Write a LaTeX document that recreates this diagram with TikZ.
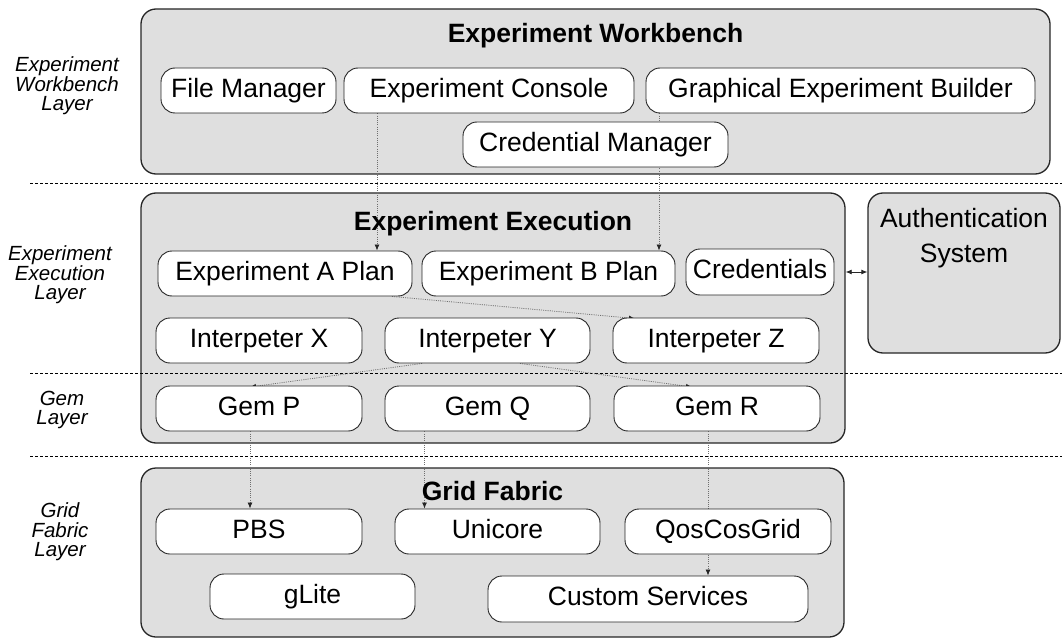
\documentclass[tikz,border=0pt]{standalone}
\usepackage{fontspec}
\setmainfont{Liberation Sans}
\usetikzlibrary{arrows.meta}
\pgfdeclarelayer{back}
\pgfdeclarelayer{mid}
\pgfsetlayers{back,mid,main}
\definecolor{panel}{HTML}{DFDFDF}
\definecolor{edge}{HTML}{262626}
\definecolor{link}{HTML}{6E6E6E}
\begin{document}
\begin{tikzpicture}[x=1pt,y=-1pt,
  panelbox/.style={draw=edge,line width=1.3pt,fill=panel,rounded corners=15pt,inner sep=0pt},
  comp/.style={draw=edge,line width=0.9pt,fill=white,rounded corners=14pt,inner sep=0pt,
    minimum height=45pt,text height=19pt,text depth=5.5pt,font=\fontsize{26.5}{30}\selectfont},
  paneltitle/.style={anchor=base,inner sep=0pt,font=\fontsize{26.5}{30}\selectfont\bfseries},
  layerlabel/.style={align=center,inner sep=0pt,font=\fontsize{20.5}{19.5}\selectfont\itshape},
  separator/.style={draw=black,line width=0.9pt,dash pattern=on 3pt off 2pt},
  flow/.style={draw=link,line width=0.8pt,dash pattern=on 1pt off 1.2pt,
    -{Latex[length=6pt,width=5pt,color=edge]}},
  biflow/.style={draw=edge,line width=0.8pt,
    {Latex[length=6pt,width=5pt]}-{Latex[length=6pt,width=5pt]}}]
\useasboundingbox (0,0) rectangle (1062,639);

% layer panels
\begin{pgfonlayer}{back}
  \node[panelbox,minimum width=909pt,minimum height=165pt] (wb) at (595.5,91.5) {};
  \node[panelbox,minimum width=704pt,minimum height=250pt] (ex) at (493,318) {};
  \node[panelbox,minimum width=703pt,minimum height=169pt] (gf) at (492.5,552.5) {};
  \node[panelbox,minimum width=192pt,minimum height=160pt] (auth) at (964,273) {};
\end{pgfonlayer}

% panel titles
\node[paneltitle] (wbtitle) at (595.5,43) {Experiment Workbench};
\node[paneltitle] (extitle) at (493,230) {Experiment Execution};
\node[paneltitle] (gftitle) at (492.5,500) {Grid Fabric};
\node[anchor=north,align=center,inner sep=0pt,font=\fontsize{26.5}{35}\selectfont]
  (authtext) at (964,207.7) {Authentication\\System};

% layer names
\node[layerlabel] (l1) at (67,86) {Experiment\\Workbench\\Layer};
\node[layerlabel] (l2) at (60,275) {Experiment\\Execution\\Layer};
\node[layerlabel] (l3) at (62,410) {Gem\\Layer};
\node[layerlabel] (l4) at (60,532) {Grid\\Fabric\\Layer};

% workbench components
\node[comp,minimum width=175pt] (fm) at (248.5,90.5) {File Manager};
\node[comp,minimum width=290pt] (ec) at (489,90.5) {Experiment Console};
\node[comp,minimum width=389pt] (geb) at (840.5,90.5) {Graphical Experiment Builder};
\node[comp,minimum width=265pt] (cm) at (595.5,144.5) {Credential Manager};

% execution components
\node[comp,minimum width=254pt] (apl) at (285,273.5) {Experiment A Plan};
\node[comp,minimum width=253pt] (bpl) at (548.5,273.5) {Experiment B Plan};
\node[comp,minimum width=148pt,minimum height=46pt] (cred) at (760,272) {Credentials};
\node[comp,minimum width=206pt] (ix) at (259,340.5) {Interpeter X};
\node[comp,minimum width=205pt] (iy) at (487.5,340.5) {Interpeter Y};
\node[comp,minimum width=206pt] (iz) at (716,340.5) {Interpeter Z};

% gems
\node[comp,minimum width=206pt] (gp) at (259,408.5) {Gem P};
\node[comp,minimum width=205pt] (gq) at (487.5,408.5) {Gem Q};
\node[comp,minimum width=206pt] (gr) at (717,408.5) {Gem R};

% grid fabric components
\node[comp,minimum width=206pt] (pbs) at (259,531.5) {PBS};
\node[comp,minimum width=205pt] (uni) at (497.5,531.5) {Unicore};
\node[comp,minimum width=206pt] (qcg) at (728,531.5) {QosCosGrid};
\node[comp,minimum width=205pt] (gl) at (312.5,596.5) {gLite};
\node[comp,minimum width=320pt,minimum height=46pt] (cs) at (648,599) {Custom Services};

% layer separators and connectors
\begin{pgfonlayer}{mid}
  \coordinate (sepL) at (30,0);
  \coordinate (sepR) at (1062,0);
  \draw[separator] (sepL |- 0,183) -- (sepR |- 0,183);
  \draw[separator] (sepL |- 0,373.5) -- (sepR |- 0,373.5);
  \draw[separator] (sepL |- 0,456) -- (sepR |- 0,456);

  \draw[flow] ([xshift=-112pt]ec.south) -- ([xshift=92pt]apl.north);
  \draw[flow] ([xshift=-181.5pt]geb.south) -- ([xshift=110.5pt]bpl.north);
  \draw[flow] ([xshift=107pt]apl.south) -- ([xshift=-81pt,yshift=-1pt]iz.north);
  \draw[flow] ([xshift=-65.5pt]iy.south) -- ([xshift=-9pt,yshift=-1.5pt]gp.north);
  \draw[flow] ([xshift=32.5pt]iy.south) -- ([xshift=-25pt,yshift=-1.5pt]gr.north);
  \draw[flow] ([xshift=-9pt]gp.south) -- ([xshift=-9pt]pbs.north);
  \draw[flow] ([xshift=-63pt]gq.south) -- ([xshift=-73pt]uni.north);
  \draw[flow] ([xshift=-9pt]gr.south) -- ([xshift=60pt]cs.north);
  \draw[biflow] (ex.east |- cred.east) -- (auth.west |- cred.east);
\end{pgfonlayer}
\end{tikzpicture}
\end{document}
